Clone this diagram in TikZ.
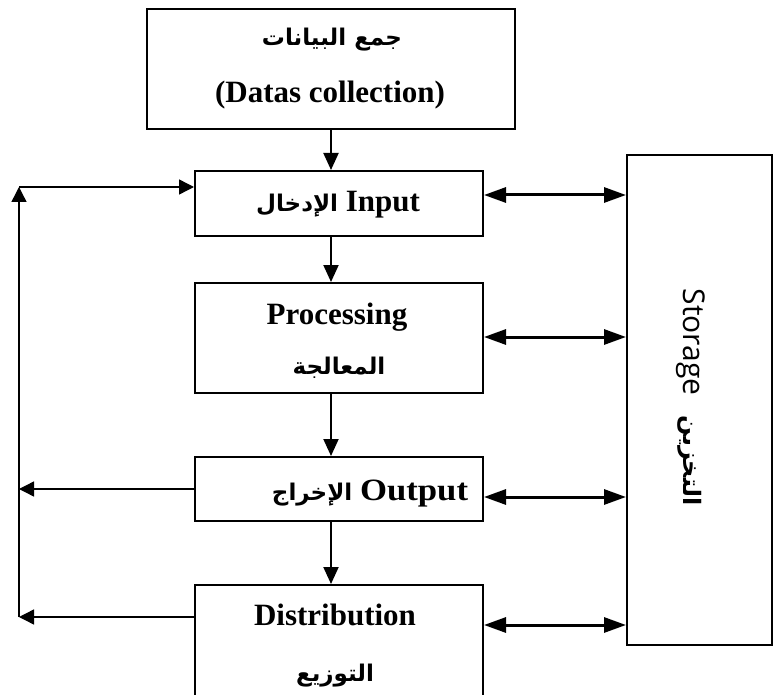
\documentclass[tikz,border=0pt]{standalone}
\usepackage{fontspec}
\setmainfont{Liberation Serif}
\newfontfamily\arabicfont[Script=Arabic]{DejaVu Sans}
\newfontfamily\storefont{Open Sans}
\TeXXeTstate=1
\usetikzlibrary{arrows.meta}
\newcommand{\ar}[1]{{\arabicfont\bfseries\fontsize{23}{28}\selectfont\beginR #1\endR}}
\begin{document}
\begin{tikzpicture}[x=1pt,y=-1pt,
  box/.style={draw=black,line width=2pt,rectangle,inner sep=0pt},
  lbl/.style={inner sep=0pt,font=\bfseries\fontsize{31}{37}\selectfont},
  varrow/.style={line width=2pt,-{Triangle[length=17pt,width=15pt]}},
  darrow/.style={line width=3pt,{Triangle[length=22pt,width=15pt]}-{Triangle[length=22pt,width=15pt]}},
  larrow/.style={line width=1.4pt,-{Triangle[length=15pt,width=15pt]}}]
\useasboundingbox (0,0) rectangle (779,695);
% boxes
\node[box,minimum width=368pt,minimum height=120pt] (collect) at (331,69) {};
\node[box,minimum width=288pt,minimum height=65pt] (input) at (339,203.5) {};
\node[box,minimum width=288pt,minimum height=110pt] (proc) at (339,338) {};
\node[box,minimum width=288pt,minimum height=64pt] (output) at (339,489) {};
\node[box,minimum width=288pt,minimum height=135pt] (dist) at (339,652.5) {};
\node[box,minimum width=145pt,minimum height=490pt] (storage) at (699.5,400) {};
% labels
\node[lbl] (t1) at (332,40) {\ar{جمع البيانات}};
\node[lbl,anchor=base] (t2) at (330,103) {(Datas collection)};
\node[lbl,anchor=base] (t3) at (338,212) {\ar{الإدخال}~Input};
\node[lbl,anchor=base] (t4) at (337,324) {Processing};
\node[lbl] (t5) at (339,368) {\ar{المعالجة}};
\node[lbl,anchor=base] (t6) at (370,500) {\ar{الإخراج}~\scalebox{1.12}[1]{Output}};
\node[lbl,anchor=base] (t7) at (335,625) {Distribution};
\node[lbl] (t8) at (335,676) {\ar{التوزيع}};
\node[inner sep=0pt,rotate=-90,font=\storefont\fontsize{30}{36}\selectfont] (t9) at (691,397)
  {Storage\hspace{20pt}{\arabicfont\bfseries\fontsize{24}{30}\selectfont\beginR التخزين\endR}};
% coordinates
\coordinate (ax) at (331,0);
\coordinate (y1) at (0,195);
\coordinate (y2) at (0,337);
\coordinate (y3) at (0,497);
\coordinate (y4) at (0,625);
\coordinate (Ltop) at (19,187);
\coordinate (Lout) at (19,489);
\coordinate (Ldist) at (19,617);
% vertical flow
\draw[varrow] (collect.south) -- (ax |- input.north);
\draw[varrow] (ax |- input.south) -- (ax |- proc.north);
\draw[varrow] (ax |- proc.south) -- (ax |- output.north);
\draw[varrow] (ax |- output.south) -- (ax |- dist.north);
% storage links
\draw[darrow] (input.east |- y1) -- (storage.west |- y1);
\draw[darrow] (proc.east |- y2) -- (storage.west |- y2);
\draw[darrow] (output.east |- y3) -- (storage.west |- y3);
\draw[darrow] (dist.east |- y4) -- (storage.west |- y4);
% feedback
\draw[larrow] (output.west |- Lout) -- (Lout);
\draw[larrow] (dist.west |- Ldist) -- (Ldist);
\draw[larrow] (Ldist) -- (Ltop);
\draw[larrow] (Ltop) -- (input.west |- Ltop);
\end{tikzpicture}
\end{document}
